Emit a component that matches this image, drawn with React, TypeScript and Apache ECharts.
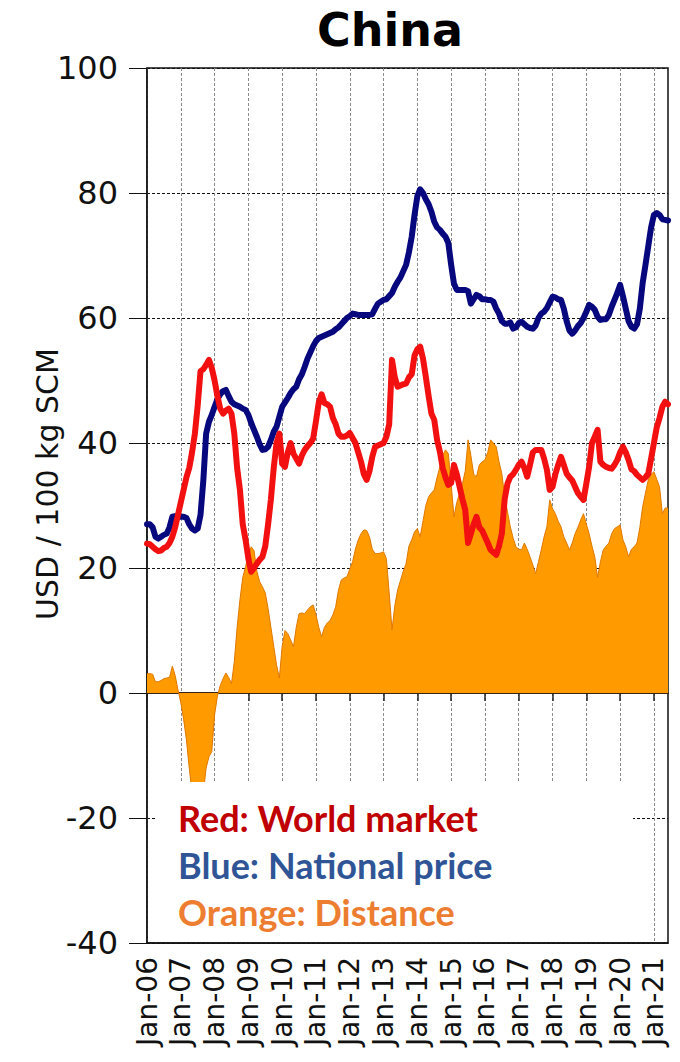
import React, { useEffect, useRef } from "react";
import * as echarts from "echarts";

const MONTHS = ["Jan", "Feb", "Mar", "Apr", "May", "Jun", "Jul", "Aug", "Sep", "Oct", "Nov", "Dec"];
const YEARS = ["06", "07", "08", "09", "10", "11", "12", "13", "14", "15", "16", "17", "18", "19", "20", "21"];
const N_MONTHS = 186; // Jan-06 .. Jun-21

const categories: string[] = [];
YEARS.forEach((y) =>
  MONTHS.forEach((m) => {
    if (categories.length < N_MONTHS) categories.push(`${m}-${y}`);
  })
);

// Red: World market (USD / 100 kg SCM), monthly
const worldMarket = [
  23.9, 23.8, 23.4, 23, 22.7, 22.8, 23.2, 23.4, 24, 25, 26.5, 28.5,
  30.5, 32.5, 34.5, 36, 38.5, 41.5, 46, 51.5, 51.8, 52.5, 53.3, 52,
  50, 47.5, 45.5, 44.7, 45.2, 45.5, 44.7, 41.5, 36, 32.5, 27, 24.5,
  21.5, 19.4, 20, 20.7, 21.3, 21.8, 23.5, 27, 31, 36, 40, 41.5,
  36.7, 36.2, 38.5, 40, 38.3, 37.5, 36.7, 38, 38.9, 39.5, 40, 40.7,
  43.5, 46.5, 47.8, 46.4, 46.2, 45.8, 44, 43, 41.5, 41, 41, 41.2,
  41.6, 40.8, 40, 38.5, 37, 35, 34.1, 35.5, 37.8, 39.4, 39.6, 39.8,
  40, 41, 43, 53.3, 50.5, 49, 49.2, 49.4, 49.5, 50.5, 51, 54,
  55, 55.4, 53.5, 50.6, 47.5, 44.7, 43.7, 40.5, 38.6, 36, 34.5, 33.3,
  33.6, 36.5, 35, 33, 31, 29.3, 24, 25.5, 27, 28.2, 26.5, 26,
  25, 24, 22.9, 22.5, 22.1, 23.5, 25.5, 31, 33.5, 34.6, 35, 35.7,
  36.5, 37, 36, 34.6, 36.5, 38.5, 38.9, 38.9, 38.9, 37.5, 35.7, 32.5,
  33, 35, 36.5, 37.8, 36.5, 35.1, 34.5, 34, 33, 32, 31.4, 30.9,
  33.5, 36.2, 40, 41, 42.1, 37, 36.5, 36.2, 36, 35.9, 36.5, 37.3,
  38.5, 39.4, 38.5, 37.3, 35.8, 35.5, 34.9, 34.5, 34.1, 34.5, 35.1, 37.5,
  40, 42.5, 44, 45.8, 46.6, 46.2,
];

// Blue: National price
const nationalPrice = [
  27, 27, 26.5, 25, 24.7, 25, 25.3, 25.5, 26.5, 28.2, 28.3, 28.2,
  28.2, 28.2, 28, 27, 26.3, 26, 26.3, 28.5, 34, 41.5, 43.4, 44.5,
  45.8, 47, 47.8, 48.3, 48.5, 47.5, 46.6, 46.2, 46, 45.8, 45.5, 45.3,
  44.5, 43.2, 42.1, 41, 39.8, 38.9, 39, 39.4, 40.5, 41.8, 42.6, 44.2,
  45.8, 46.5, 47.2, 48, 48.6, 49, 50.2, 51, 52.2, 53.5, 54.5, 55.5,
  56.3, 56.8, 57, 57.2, 57.4, 57.6, 57.8, 58.2, 58.5, 59, 59.5, 60,
  60.3, 60.7, 60.6, 60.5, 60.5, 60.5, 60.5, 60.5, 60.6, 61.5, 62.3, 62.6,
  62.9, 63, 63.5, 64, 65, 65.8, 66.5, 67.5, 68.5, 70.5, 73, 76.5,
  79.5, 80.6, 80, 79, 78.2, 77, 75.4, 74.5, 74.1, 73.5, 73, 72,
  68.5, 65.5, 64.5, 64.5, 64.5, 64.5, 64.3, 62.3, 63, 63.7, 63.5, 63,
  63, 62.9, 62.9, 62.6, 61.5, 60.7, 59.5, 59.1, 59.1, 59.3, 58.3, 58.5,
  59.2, 59.4, 59, 58.6, 58.4, 58.3, 58.8, 60, 60.7, 61, 61.6, 62.5,
  63.4, 63.3, 63, 62.9, 61.5, 59.5, 58, 57.5, 58, 58.7, 59.2, 60,
  61, 62.1, 61.8, 61.3, 60.2, 59.7, 59.8, 59.8, 60.5, 61.8, 62.9, 64,
  65.3, 63.5, 61.5, 59.5, 58.6, 58.3, 59, 61.5, 65.6, 68.5, 71.5, 74.5,
  76.5, 76.8, 76.5, 75.8, 75.7, 75.6,
];

// Orange: Distance
const distance = [
  3.1, 3.1, 3, 1.8, 1.8, 2, 2.3, 2.4, 2.5, 4.3, 2.8, 0.5,
  -1.5, -4.2, -7.5, -12, -16, -18, -19, -18, -16, -12, -10.2, -9.4,
  -3.5, -0.5, 1.2, 2.3, 3.2, 2.5, 1.5, 5, 10.5, 14.9, 18.5, 20.2,
  22, 23.4, 22.8, 19.5, 17.8, 17, 16, 13.5, 10.5, 7.5, 4.5, 2.4,
  7.5, 10, 9.5, 8.5, 7.4, 10.5, 12.7, 12.8, 12.7, 13.3, 13.8, 14.1,
  12.5, 10.5, 9, 10.5, 11.2, 11.6, 12.5, 13.8, 16.5, 18.1, 18.4, 18.6,
  19.8, 21, 23, 24.5, 25.5, 26.1, 26, 25, 23, 22.3, 22.3, 22.4,
  22.6, 21.5, 16, 10.1, 14, 16.5, 18, 19.5, 20.7, 23.5, 24.5, 25.8,
  26.3, 25, 27.5, 30, 31.4, 32, 32.5, 34.5, 36.2, 38, 38.9, 38.3,
  33.5, 28.2, 30.5, 31.9, 33.5, 35.5, 40.5, 38, 35, 34.6, 36.5, 37,
  37.3, 38.5, 40.5, 40, 39.4, 37, 35.1, 31.5, 29, 26.6, 24.8, 23.4,
  23, 22.9, 24, 23, 21.8, 20.5, 19.1, 21, 22.9, 25, 26.6, 30.9,
  29.5, 28.7, 27.5, 26.6, 25, 24, 22.9, 24, 25.5, 26.5, 27.7, 28.7,
  27, 25.5, 23.5, 21.8, 18.5, 21, 22.9, 23.5, 24, 25.5, 26.3, 26.6,
  26.9, 24.5, 23.4, 21.8, 23, 23.4, 24, 26.5, 29.8, 32, 34.1, 35,
  35.4, 34.2, 33, 28.7, 29.6, 29.6,
];

const TITLE = "China";
const Y_NAME = "USD / 100 kg SCM";
const LEGEND_LINES = [
  { text: "Red: World market", color: "#c00000" },
  { text: "Blue: National price", color: "#2f5597" },
  { text: "Orange: Distance", color: "#ed7d31" },
];

const isJan = (i: number) => i % 12 === 0;

export default function App() {
  const ref = useRef<HTMLDivElement>(null);

  useEffect(() => {
    if (!ref.current) return;
    const chart = echarts.init(ref.current, undefined, { renderer: "svg" });
    const axisFont = "DejaVu Sans";

    chart.setOption({
      animation: false,
      backgroundColor: "#ffffff",
      grid: {
        left: 147,
        right: 12,
        top: 68,
        bottom: 119,
        show: true,
        borderColor: "#111",
        borderWidth: 1.5,
        backgroundColor: "transparent",
      },
      xAxis: [
        {
          type: "category",
          data: categories,
          boundaryGap: false,
          position: "bottom",
          axisLine: { show: true, onZero: false, lineStyle: { color: "#111", width: 1.5 } },
          axisTick: { show: false },
          axisLabel: {
            interval: (i: number) => isJan(i),
            rotate: 90,
            margin: 14,
            fontSize: 28,
            fontFamily: axisFont,
            color: "#111",
          },
          splitLine: {
            show: true,
            interval: (i: number) => isJan(i),
            lineStyle: { color: "#8a8a8a", type: [3, 2], width: 1 },
          },
        },
        {
          type: "category",
          data: categories,
          boundaryGap: false,
          position: "bottom",
          axisLine: { show: true, onZero: true, lineStyle: { color: "#3b2414", width: 2 } },
          axisTick: {
            show: true,
            interval: (i: number) => isJan(i),
            length: 8,
            lineStyle: { color: "#222", width: 1.5 },
          },
          axisLabel: { show: false },
          splitLine: { show: false },
        },
      ],
      yAxis: {
        type: "value",
        min: -40,
        max: 100,
        interval: 20,
        axisLine: { show: true, lineStyle: { color: "#111", width: 1.5 } },
        axisTick: { show: true, length: 18, lineStyle: { color: "#111", width: 1 } },
        axisLabel: { fontSize: 32, fontFamily: axisFont, color: "#111", margin: 29 },
        splitLine: { show: true, lineStyle: { color: "#111", type: [3, 2], width: 1 } },
      },
      series: [
        {
          name: "Distance",
          type: "line",
          data: distance,
          symbol: "none",
          xAxisIndex: 0,
          lineStyle: { color: "#e07800", width: 1 },
          areaStyle: { color: "#ff9a00", opacity: 1, origin: 0 },
          z: 2,
        },
        {
          name: "National price",
          type: "line",
          data: nationalPrice,
          symbol: "none",
          xAxisIndex: 0,
          lineStyle: { color: "#08087e", width: 6, cap: "round", join: "round" },
          z: 3,
        },
        {
          name: "World market",
          type: "line",
          data: worldMarket,
          symbol: "none",
          xAxisIndex: 0,
          lineStyle: { color: "#f21010", width: 6, cap: "round", join: "round" },
          z: 4,
        },
      ],
      graphic: [
        {
          type: "rect",
          z: 100,
          shape: { x: 157, y: 782, width: 476, height: 160 },
          style: { fill: "#ffffff" },
        },
        ...LEGEND_LINES.map((l, i) => ({
          type: "text",
          z: 101,
          x: 178,
          y: 818 + i * 47,
          style: {
            text: l.text,
            fill: l.color,
            font: "bold 36px Lato",
            align: "left",
            verticalAlign: "middle",
          },
        })),
        {
          type: "text",
          z: 101,
          x: 390,
          y: 30,
          style: {
            text: TITLE,
            fill: "#000",
            font: "bold 46px DejaVu Sans",
            align: "center",
            verticalAlign: "middle",
          },
        },
        {
          type: "text",
          z: 101,
          x: 47,
          y: 484,
          rotation: Math.PI / 2,
          style: {
            text: Y_NAME,
            fill: "#111",
            font: "30px DejaVu Sans",
            align: "center",
            verticalAlign: "middle",
          },
        },
      ],
    });

    return () => chart.dispose();
  }, []);

  return (
    <div
      ref={ref}
      style={{ position: "fixed", left: 0, top: 0, width: 680, height: 1062, background: "#fff" }}
    />
  );
}
